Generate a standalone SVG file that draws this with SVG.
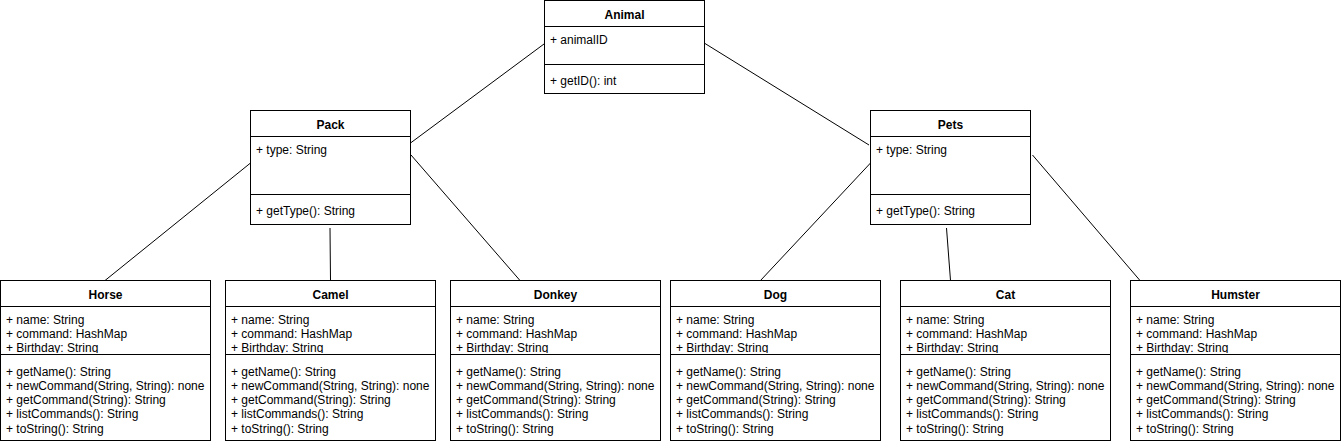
<svg xmlns="http://www.w3.org/2000/svg" width="1342" height="444" viewBox="0 0 1342 444">
<style>
.box{fill:#fff;stroke:#000;stroke-width:1}
.sep{stroke:#000;stroke-width:1}
.t{font-family:"Liberation Sans",Arial,sans-serif;font-size:12px;fill:#000}
.h{font-family:"Liberation Sans",Arial,sans-serif;font-size:12px;font-weight:bold;fill:#000;text-anchor:middle}
.c{stroke:#000;stroke-width:1;fill:none}
</style>
<defs>
<clipPath id="attrClip"><rect x="0" y="307" width="1342" height="46"/></clipPath>
</defs>
<rect width="1342" height="444" fill="#fff"/>
<g id="connectors">
<line class="c" x1="544" y1="44" x2="410.5" y2="143"/>
<line class="c" x1="705" y1="43.5" x2="869" y2="145"/>
<line class="c" x1="250.5" y1="163" x2="105" y2="280.5"/>
<line class="c" x1="330" y1="228" x2="330.5" y2="280.5"/>
<line class="c" x1="411" y1="155" x2="520" y2="280.5"/>
<line class="c" x1="870.5" y1="163" x2="760.5" y2="280.5"/>
<line class="c" x1="946.5" y1="228" x2="950.5" y2="280.5"/>
<line class="c" x1="1032.5" y1="155" x2="1140" y2="280.5"/>
</g>
<g id="Animal">
<rect class="box" x="544.5" y="0.5" width="160" height="93"/>
<line class="sep" x1="544.5" y1="26.5" x2="704.5" y2="26.5"/>
<line class="sep" x1="544.5" y1="64.5" x2="704.5" y2="64.5"/>
<text class="h" x="624.5" y="19">Animal</text>
<text class="t" x="550" y="44">+ animalID</text>
<text class="t" x="550" y="85">+ getID(): int</text>
</g>
<g id="Pack">
<rect class="box" x="250.5" y="110.5" width="160" height="114"/>
<line class="sep" x1="250.5" y1="136.5" x2="410.5" y2="136.5"/>
<line class="sep" x1="250.5" y1="194.5" x2="410.5" y2="194.5"/>
<text class="h" x="330.5" y="128.5">Pack</text>
<text class="t" x="256" y="154">+ type: String</text>
<text class="t" x="256" y="215">+ getType(): String</text>
</g>
<g id="Pets">
<rect class="box" x="870.5" y="110.5" width="160" height="114"/>
<line class="sep" x1="870.5" y1="136.5" x2="1030.5" y2="136.5"/>
<line class="sep" x1="870.5" y1="194.5" x2="1030.5" y2="194.5"/>
<text class="h" x="950.5" y="128.5">Pets</text>
<text class="t" x="876" y="154">+ type: String</text>
<text class="t" x="876" y="215">+ getType(): String</text>
</g>
<g id="Horse">
<rect class="box" x="0.5" y="280.5" width="210" height="160"/>
<line class="sep" x1="0.5" y1="306.5" x2="210.5" y2="306.5"/>
<line class="sep" x1="0.5" y1="354.5" x2="210.5" y2="354.5"/>
<text class="h" x="105.5" y="298.5">Horse</text>
<g clip-path="url(#attrClip)">
<text class="t" x="6" y="323.5">+ name: String</text>
<text class="t" x="6" y="338">+ command: HashMap</text>
<text class="t" x="6" y="352">+ Birthday: String</text>
</g>
<text class="t" x="6" y="376">+ getName(): String</text>
<text class="t" x="6" y="390">+ newCommand(String, String): none</text>
<text class="t" x="6" y="404">+ getCommand(String): String</text>
<text class="t" x="6" y="418">+ listCommands(): String</text>
<text class="t" x="6" y="432.5">+ toString(): String</text>
</g>
<g id="Camel">
<rect class="box" x="225.5" y="280.5" width="210" height="160"/>
<line class="sep" x1="225.5" y1="306.5" x2="435.5" y2="306.5"/>
<line class="sep" x1="225.5" y1="354.5" x2="435.5" y2="354.5"/>
<text class="h" x="330.5" y="298.5">Camel</text>
<g clip-path="url(#attrClip)">
<text class="t" x="231" y="323.5">+ name: String</text>
<text class="t" x="231" y="338">+ command: HashMap</text>
<text class="t" x="231" y="352">+ Birthday: String</text>
</g>
<text class="t" x="231" y="376">+ getName(): String</text>
<text class="t" x="231" y="390">+ newCommand(String, String): none</text>
<text class="t" x="231" y="404">+ getCommand(String): String</text>
<text class="t" x="231" y="418">+ listCommands(): String</text>
<text class="t" x="231" y="432.5">+ toString(): String</text>
</g>
<g id="Donkey">
<rect class="box" x="450.5" y="280.5" width="210" height="160"/>
<line class="sep" x1="450.5" y1="306.5" x2="660.5" y2="306.5"/>
<line class="sep" x1="450.5" y1="354.5" x2="660.5" y2="354.5"/>
<text class="h" x="555.5" y="298.5">Donkey</text>
<g clip-path="url(#attrClip)">
<text class="t" x="456" y="323.5">+ name: String</text>
<text class="t" x="456" y="338">+ command: HashMap</text>
<text class="t" x="456" y="352">+ Birthday: String</text>
</g>
<text class="t" x="456" y="376">+ getName(): String</text>
<text class="t" x="456" y="390">+ newCommand(String, String): none</text>
<text class="t" x="456" y="404">+ getCommand(String): String</text>
<text class="t" x="456" y="418">+ listCommands(): String</text>
<text class="t" x="456" y="432.5">+ toString(): String</text>
</g>
<g id="Dog">
<rect class="box" x="670.5" y="280.5" width="210" height="160"/>
<line class="sep" x1="670.5" y1="306.5" x2="880.5" y2="306.5"/>
<line class="sep" x1="670.5" y1="354.5" x2="880.5" y2="354.5"/>
<text class="h" x="775.5" y="298.5">Dog</text>
<g clip-path="url(#attrClip)">
<text class="t" x="676" y="323.5">+ name: String</text>
<text class="t" x="676" y="338">+ command: HashMap</text>
<text class="t" x="676" y="352">+ Birthday: String</text>
</g>
<text class="t" x="676" y="376">+ getName(): String</text>
<text class="t" x="676" y="390">+ newCommand(String, String): none</text>
<text class="t" x="676" y="404">+ getCommand(String): String</text>
<text class="t" x="676" y="418">+ listCommands(): String</text>
<text class="t" x="676" y="432.5">+ toString(): String</text>
</g>
<g id="Cat">
<rect class="box" x="900.5" y="280.5" width="210" height="160"/>
<line class="sep" x1="900.5" y1="306.5" x2="1110.5" y2="306.5"/>
<line class="sep" x1="900.5" y1="354.5" x2="1110.5" y2="354.5"/>
<text class="h" x="1005.5" y="298.5">Cat</text>
<g clip-path="url(#attrClip)">
<text class="t" x="906" y="323.5">+ name: String</text>
<text class="t" x="906" y="338">+ command: HashMap</text>
<text class="t" x="906" y="352">+ Birthday: String</text>
</g>
<text class="t" x="906" y="376">+ getName(): String</text>
<text class="t" x="906" y="390">+ newCommand(String, String): none</text>
<text class="t" x="906" y="404">+ getCommand(String): String</text>
<text class="t" x="906" y="418">+ listCommands(): String</text>
<text class="t" x="906" y="432.5">+ toString(): String</text>
</g>
<g id="Humster">
<rect class="box" x="1130.5" y="280.5" width="210" height="160"/>
<line class="sep" x1="1130.5" y1="306.5" x2="1340.5" y2="306.5"/>
<line class="sep" x1="1130.5" y1="354.5" x2="1340.5" y2="354.5"/>
<text class="h" x="1235.5" y="298.5">Humster</text>
<g clip-path="url(#attrClip)">
<text class="t" x="1136" y="323.5">+ name: String</text>
<text class="t" x="1136" y="338">+ command: HashMap</text>
<text class="t" x="1136" y="352">+ Birthday: String</text>
</g>
<text class="t" x="1136" y="376">+ getName(): String</text>
<text class="t" x="1136" y="390">+ newCommand(String, String): none</text>
<text class="t" x="1136" y="404">+ getCommand(String): String</text>
<text class="t" x="1136" y="418">+ listCommands(): String</text>
<text class="t" x="1136" y="432.5">+ toString(): String</text>
</g>
</svg>
